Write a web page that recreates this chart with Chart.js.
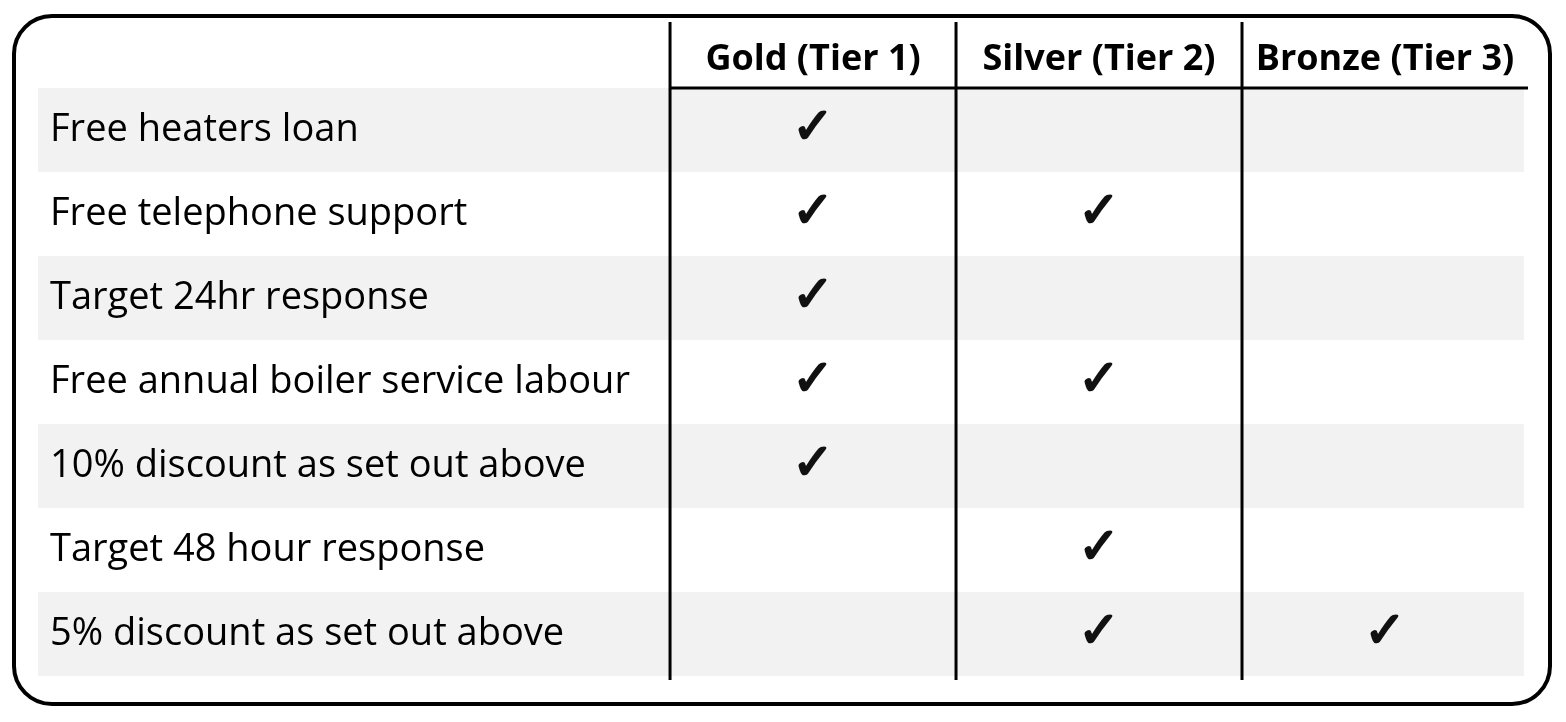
<!DOCTYPE html>
<html>
<head>
<meta charset="utf-8">
<script src="https://cdn.jsdelivr.net/npm/chart.js@4/dist/chart.umd.min.js"></script>
<style>
  html, body { margin: 0; padding: 0; background: #fff; }
  #wrap { position: absolute; left: 12px; top: 14px; width: 1540px; height: 692px;
          border: 4px solid #000; border-radius: 40px; box-sizing: border-box; }
  canvas { position: absolute; left: 0; top: 0; }
</style>
</head>
<body>
<div id="wrap"></div>
<canvas id="tableChart" width="1566" height="722"></canvas>
<script>
// Dữ liệu bảng
const tiers = ['Gold (Tier 1)', 'Silver (Tier 2)', 'Bronze (Tier 3)'];
const features = [
    'Free heaters loan',
    'Free telephone support',
    'Target 24hr response',
    'Free annual boiler service labour',
    '10% discount as set out above',
    'Target 48 hour response',
    '5% discount as set out above'
];
// 1 = có dấu tích, theo từng cột
const goldTicks   = [1, 1, 1, 1, 1, 0, 0];
const silverTicks = [0, 1, 0, 1, 0, 1, 1];
const bronzeTicks = [0, 0, 0, 0, 0, 0, 1];

const tickCols = [goldTicks, silverTicks, bronzeTicks];
const points = [];
tickCols.forEach((col, c) => col.forEach((v, r) => {
    if (v) points.push({ x: c + 0.5, y: r + 0.5 });
}));

const FONT = '"Open Sans", "Liberation Sans", sans-serif';

// Plugin vẽ nền, chữ, đường kẻ
const tablePlugin = {
    id: 'tablePlugin',
    beforeDatasetsDraw(chart) {
        const { ctx, scales: { x, y } } = chart;
        ctx.save();
        // nền xám cho hàng lẻ
        ctx.fillStyle = '#f2f2f2';
        features.forEach((f, r) => {
            if (r % 2 === 0) {
                ctx.fillRect(x.getPixelForValue(x.min), y.getPixelForValue(r),
                    x.getPixelForValue(2.986) - x.getPixelForValue(x.min),
                    y.getPixelForValue(r + 1) - y.getPixelForValue(r));
            }
        });
        // nhãn hàng
        ctx.fillStyle = '#000';
        ctx.font = '38px ' + FONT;
        ctx.textBaseline = 'middle';
        ctx.textAlign = 'left';
        features.forEach((f, r) => {
            ctx.fillText(f, x.getPixelForValue(x.min) + 12, y.getPixelForValue(r + 0.5));
        });
        // tiêu đề cột
        ctx.font = 'bold 36px ' + FONT;
        ctx.textAlign = 'center';
        tiers.forEach((t, c) => {
            ctx.fillText(t, x.getPixelForValue(c + 0.5), y.getPixelForValue(-0.33));
        });
        // đường kẻ
        ctx.strokeStyle = '#000';
        ctx.lineWidth = 3;
        ctx.beginPath();
        ctx.moveTo(x.getPixelForValue(0), y.getPixelForValue(0));
        ctx.lineTo(x.getPixelForValue(3), y.getPixelForValue(0));
        [0, 1, 2].forEach(c => {
            ctx.moveTo(x.getPixelForValue(c), y.getPixelForValue(y.min) - 8);
            ctx.lineTo(x.getPixelForValue(c), y.getPixelForValue(y.max) + 4);
        });
        ctx.stroke();
        ctx.restore();
    },
    afterDatasetsDraw(chart) {
        const { ctx } = chart;
        ctx.save();
        ctx.fillStyle = '#111';
        ctx.strokeStyle = '#111';
        ctx.lineWidth = 2;
        ctx.font = 'bold 50px "DejaVu Sans", sans-serif';
        ctx.textAlign = 'center';
        ctx.textBaseline = 'middle';
        chart.getDatasetMeta(0).data.forEach(pt => {
            ctx.fillText('✓', pt.x, pt.y);
            ctx.strokeText('✓', pt.x, pt.y);
        });
        ctx.restore();
    }
};

new Chart(document.getElementById('tableChart').getContext('2d'), {
    type: 'scatter',
    data: { datasets: [{ data: points, pointRadius: 0, pointHoverRadius: 0 }] },
    options: {
        responsive: false,
        animation: false,
        events: [],
        layout: { padding: { left: 38, right: 38, top: 30, bottom: 46 } },
        plugins: { legend: { display: false }, tooltip: { enabled: false } },
        scales: {
            x: { type: 'linear', min: -2.21, max: 3, display: false },
            y: { type: 'linear', min: -0.69, max: 7, reverse: true, display: false }
        }
    },
    plugins: [tablePlugin]
});
</script>
</body>
</html>
